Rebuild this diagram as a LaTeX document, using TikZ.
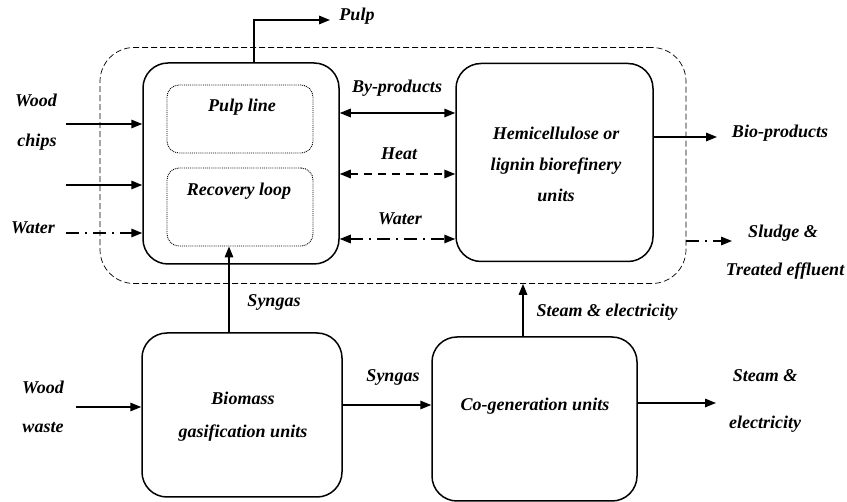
\documentclass[tikz,border=0pt]{standalone}
\usepackage{fontspec}
\setmainfont{Liberation Serif}
\usetikzlibrary{arrows.meta}

\begin{document}
\begin{tikzpicture}[x=1pt,y=-1pt,
  lbl/.style={font=\fontsize{18}{31}\selectfont\bfseries\itshape, inner sep=0pt, align=center},
  unit/.style={draw, line width=1.5pt, rounded corners=25pt, inner sep=0pt},
  subunit/.style={draw, densely dotted, line width=0.9pt, rounded corners=12pt, inner sep=0pt},
  plant/.style={draw, dashed, line width=0.7pt, dash pattern=on 6pt off 3pt, rounded corners=34pt, inner sep=0pt},
  tip/.style={-{Triangle[length=11pt,width=8.5pt]}},
  twotip/.style={{Triangle[length=11pt,width=8.5pt]}-{Triangle[length=11pt,width=8.5pt]}},
  flow/.style={line width=1.6pt, tip},
  dflow/.style={line width=1.6pt, dash pattern=on 8pt off 6pt},
  dotflow/.style={line width=1.6pt, dash pattern=on 13pt off 6pt on 2pt off 6pt},
]
\useasboundingbox (0,0) rectangle (847,502);

% integrated mill boundary
\node[plant, minimum width=586pt, minimum height=236pt] (mill) at (393,165.5) {};

% main process units
\node[unit, minimum width=196pt, minimum height=201pt] (pulp) at (241,163.5) {};
\node[subunit, minimum width=146pt, minimum height=68pt] (pl) at (240,119) {};
\node[subunit, minimum width=146pt, minimum height=78pt] (rl) at (240,207) {};
\node[lbl] at (242,107) {Pulp line};
\node[lbl] at (239,191) {Recovery loop};

\node[unit, minimum width=197pt, minimum height=198pt] (bio) at (554.5,162.5) {};
\node[lbl] at (556,164) {Hemicellulose or\\lignin biorefinery\\units};

\node[unit, minimum width=200pt, minimum height=164pt] (gas) at (242,415) {};
\node[lbl, font=\fontsize{18}{33}\selectfont\bfseries\itshape] at (243,417) {Biomass\\gasification units};

\node[unit, minimum width=205pt, minimum height=164pt] (cogen) at (534.5,419) {};
\node[lbl] at (535,406) {Co-generation units};

% free ends of the connectors
\coordinate (pulpend) at (330,20);
\coordinate (chips1) at (66,124);
\coordinate (chips2) at (66,185);
\coordinate (waterin) at (66,233);
\coordinate (bioend) at (717,137);
\coordinate (sludgeend) at (732,241);
\coordinate (wastein) at (76,407);
\coordinate (steamend) at (716,403);

% connectors
\draw[flow] ([xshift=13pt]pulp.north) |- (pulpend);
\draw[flow] (chips1) -- (chips1 -| pulp.west);
\draw[flow] (chips2) -- (chips2 -| pulp.west);
\draw[dotflow, tip] (waterin) -- (waterin -| pulp.west);

\draw[line width=1.6pt, twotip] ([yshift=50.5pt]pulp.east) -- ([yshift=49.5pt]bio.west);
\draw[dflow, twotip] ([yshift=-10.5pt]pulp.east) -- ([yshift=-11.5pt]bio.west);
\draw[dotflow, twotip] ([yshift=-75.5pt]pulp.east) -- ([yshift=-76.5pt]bio.west);

\draw[flow] (bioend -| bio.east) -- (bioend);
\draw[dotflow, tip] (sludgeend -| mill.east) -- (sludgeend);

\draw[flow] ([xshift=-13pt]gas.north) -- ([xshift=-11pt]rl.south);
\draw[flow] ([xshift=-11.5pt]cogen.north) -- ([xshift=-11.5pt]cogen.north |- mill.south);
\draw[flow] ([yshift=10pt]gas.east) -- ([yshift=14pt]cogen.west);
\draw[flow] (wastein) -- (wastein -| gas.west);
\draw[flow] (steamend -| cogen.east) -- (steamend);

% stream labels
\node[lbl] at (357,16) {Pulp};
\node[lbl] at (36,100) {Wood};
\node[lbl] at (37,142) {chips};
\node[lbl] at (33,228) {Water};
\node[lbl] at (397,88) {By-products};
\node[lbl] at (399,154) {Heat};
\node[lbl] at (400,219) {Water};
\node[lbl] at (780,133) {Bio-products};
\node[lbl] at (783,233) {Sludge \&};
\node[lbl] at (785,271) {Treated effluent};
\node[lbl] at (274,302) {Syngas};
\node[lbl] at (607,312) {Steam \& electricity};
\node[lbl] at (393,377) {Syngas};
\node[lbl] at (43,387) {Wood};
\node[lbl] at (43,428) {waste};
\node[lbl] at (765,376) {Steam \&};
\node[lbl] at (765,424) {electricity};
\end{tikzpicture}
\end{document}
